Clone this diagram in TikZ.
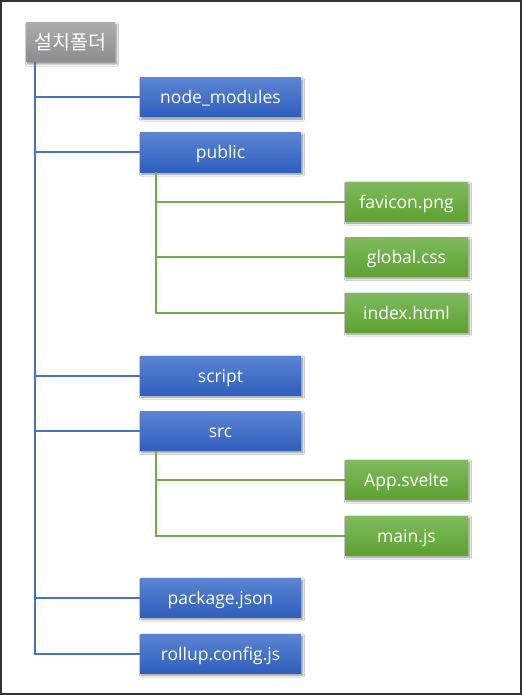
\documentclass[tikz,border=0pt]{standalone}
\usepackage{fontspec}
\setmainfont{Open Sans}
\newfontfamily\krfont{Noto Sans CJK KR}
\usetikzlibrary{shadows.blur}
\definecolor{bluetop}{HTML}{5B84D2}
\definecolor{bluebot}{HTML}{2F5FBD}
\definecolor{greentop}{HTML}{80BA5E}
\definecolor{greenbot}{HTML}{5DA232}
\definecolor{graytop}{HTML}{ADADAD}
\definecolor{graybot}{HTML}{8C8C8C}
\definecolor{blueline}{HTML}{4472C4}
\definecolor{greenline}{HTML}{70AD47}
\definecolor{framecol}{HTML}{333333}
\tikzset{
  boxbase/.style={rectangle, inner sep=0pt, text=white, font=\fontsize{17.5}{20}\selectfont,
    text height=15pt, text depth=2pt,
    blur shadow={shadow blur steps=6, shadow xshift=1.5pt, shadow yshift=-2pt, shadow opacity=45}},
  rootbox/.style={boxbase, minimum width=89pt, minimum height=39pt, top color=graytop, bottom color=graybot,
    font=\krfont\fontsize{19.5}{22}\selectfont, text height=16pt, text depth=2pt},
  bluebox/.style={boxbase, minimum width=161pt, minimum height=39pt, top color=bluetop, bottom color=bluebot},
  greenbox/.style={boxbase, minimum width=123pt, minimum height=39pt, top color=greentop, bottom color=greenbot},
  bline/.style={draw=blueline, line width=2pt},
  gline/.style={draw=greenline, line width=2pt},
}
\begin{document}
\begin{tikzpicture}[x=1pt,y=-1pt]
\useasboundingbox (0,0) rectangle (522,695);
\fill[white] (0,0) rectangle (522,695);
\draw[framecol, line width=2pt] (1,1) rectangle (521,694);

\node[rootbox] (root) at (70.5,42.5) {설치폴더};
\node[bluebox] (nm) at (220.5,97.5) {node\_modules};
\node[bluebox] (pub) at (220.5,152.5) {public};
\node[greenbox] (fav) at (406.5,201.5) {favicon.png};
\node[greenbox] (glob) at (406.5,257) {global.css};
\node[greenbox] (idx) at (406.5,312.5) {index.html};
\node[bluebox] (scr) at (220.5,375.5) {script};
\node[bluebox] (src) at (220.5,431) {src};
\node[greenbox] (app) at (406.5,479.5) {App.svelte};
\node[greenbox] (mainjs) at (406.5,535.5) {main.js};
\node[bluebox] (pkg) at (220.5,597.5) {package.json};
\node[bluebox] (roll) at (220.5,653.5) {rollup.config.js};

\coordinate (rtop) at (35,62);
\coordinate (ptop) at (156,172);
\coordinate (stop) at (156,451);

\draw[bline] (rtop) |- (roll.west);
\foreach \n in {nm,pub,scr,src,pkg}{
  \draw[bline] (rtop |- \n.west) -- (\n.west);
}
\draw[gline] (ptop) |- (idx.west);
\foreach \n in {fav,glob}{
  \draw[gline] (ptop |- \n.west) -- (\n.west);
}
\draw[gline] (stop) |- (mainjs.west);
\draw[gline] (stop |- app.west) -- (app.west);
\end{tikzpicture}
\end{document}
